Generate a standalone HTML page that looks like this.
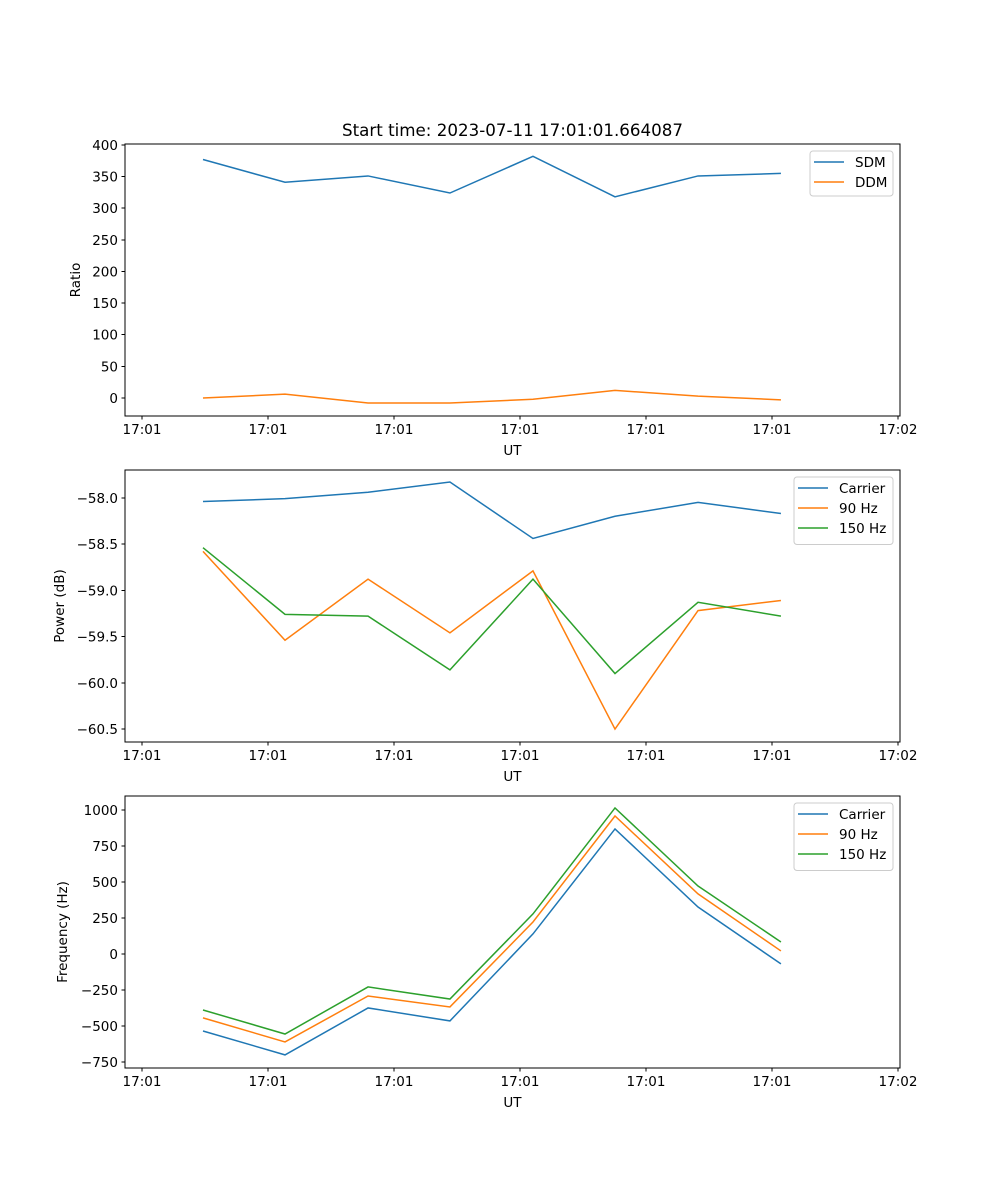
<!DOCTYPE html>
<html><head><meta charset="utf-8"><style>
body{margin:0;background:#fff}
svg{display:block;font-family:"DejaVu Sans","Liberation Sans",sans-serif}
</style></head><body>
<svg id="fig" width="1000" height="1200" viewBox="0 0 1000 1200" xmlns="http://www.w3.org/2000/svg">
<rect width="1000" height="1200" fill="#fff"/>
<text x="512.5" y="136" font-size="16.7" text-anchor="middle">Start time: 2023-07-11 17:01:01.664087</text>
</svg>
<script>
// x positions in units of tick spacing (ticks labelled 17:01 .. 17:02)
const sampleTimes = [0.484, 1.135, 1.794, 2.444, 3.103, 3.754, 4.413, 5.071];
const xTickLabels = ["17:01","17:01","17:01","17:01","17:01","17:01","17:02"];
const sdmValues = [377, 341, 351, 324, 382, 318, 351, 355];
const ddmValues = [0, 6, -8, -8, -2, 12, 3, -3];
const powerCarrier = [-58.04, -58.01, -57.94, -57.83, -58.44, -58.20, -58.05, -58.17];
const power90 = [-58.58, -59.54, -58.88, -59.46, -58.79, -60.50, -59.22, -59.11];
const power150 = [-58.54, -59.26, -59.28, -59.86, -58.88, -59.90, -59.13, -59.28];
const freqCarrier = [-535, -701, -375, -465, 139, 868, 326, -69];
const freq90 = [-444, -611, -292, -368, 222, 958, 417, 21];
const freq150 = [-389, -556, -229, -313, 278, 1014, 472, 83];
const ratioTicks = [0,50,100,150,200,250,300,350,400];
const powerTicks = [-60.5,-60.0,-59.5,-59.0,-58.5,-58.0];
const freqTicks = [-750,-500,-250,0,250,500,750,1000];

const NS="http://www.w3.org/2000/svg";
const svg=document.getElementById('fig');
const C={blue:'#1f77b4',orange:'#ff7f0e',green:'#2ca02c'};
function mk(tag,attrs,parent){const e=document.createElementNS(NS,tag);for(const k in attrs)e.setAttribute(k,attrs[k]);(parent||svg).appendChild(e);return e;}

function panel(cfg){
  const L=125,R=900,T=cfg.top,B=cfg.top+272;
  const xmin=-0.135,xmax=6.016;
  const sx=v=>L+(v-xmin)/(xmax-xmin)*(R-L);
  const sy=v=>B-(v-cfg.ymin)/(cfg.ymax-cfg.ymin)*(B-T);
  const g=mk('g',{});
  
  
  cfg.series.forEach(s=>{
    const p=mk('polyline',{points:s.vals.map((v,i)=>sx(sampleTimes[i])+','+sy(v)).join(' '),fill:'none',stroke:s.color,'stroke-width':1.5},g);
    
    
  });
  const fr=mk('rect',{x:L,y:T,width:R-L,height:B-T,fill:'none',stroke:'#000','stroke-width':1,'shape-rendering':'crispEdges'},g);
  
  
  xTickLabels.forEach((lab,i)=>{
    const x=sx(i);
    mk('line',{x1:x,x2:x,y1:B,y2:B+3.5,stroke:'#000','stroke-width':1,'shape-rendering':'crispEdges'},g);
    const t=mk('text',{x:x,y:B+18,'font-size':13.5,'text-anchor':'middle'},g);
    t.textContent=lab;
    
    
  });
  const xl=mk('text',{x:(L+R)/2,y:B+39,'font-size':13.5,'text-anchor':'middle'},g);
  xl.textContent='UT';
  
  
  cfg.ticks.forEach(v=>{
    const y=sy(v);
    mk('line',{x1:L-3.5,x2:L,y1:y,y2:y,stroke:'#000','stroke-width':1,'shape-rendering':'crispEdges'},g);
    const t=mk('text',{x:L-7,y:y+5,'font-size':13.5,'text-anchor':'end'},g);
    t.textContent=cfg.fmt(v);
    
    
  });
  const yl=mk('text',{x:0,y:0,'font-size':13.5,'text-anchor':'middle',transform:`translate(${cfg.ylx},${(T+B)/2}) rotate(-90)`},g);
  yl.textContent=cfg.ylabel;
  
  
  const n=cfg.series.length;
  const lx=cfg.legX, ly=T+7, lw=893-cfg.legX, lh=n*22.5;
  const lg=mk('g',{},g);
  
  
  mk('rect',{x:lx,y:ly,width:lw,height:lh,rx:3,fill:'#fff','fill-opacity':0.8,stroke:'#ccc','stroke-width':1},lg);
  cfg.series.forEach((s,i)=>{
    const yy=ly+11+i*20;
    const e=mk('g',{},lg);
    
    
    mk('line',{x1:lx+4,x2:lx+34,y1:yy,y2:yy,stroke:s.color,'stroke-width':1.5},e);
    const t=mk('text',{x:lx+45,y:yy+5,'font-size':13.5},e);
    t.textContent=s.label;
  });
}

panel({name:'ratio-panel',top:144,ymin:-28.5,ymax:401.5,ticks:ratioTicks,fmt:v=>String(v),ylabel:'Ratio',ylx:80,legX:810,
  series:[{id:'sdm-line',label:'SDM',vals:sdmValues,color:C.blue},{id:'ddm-line',label:'DDM',vals:ddmValues,color:C.orange}]});
panel({name:'power-panel',top:470,ymin:-60.64,ymax:-57.70,ticks:powerTicks,fmt:v=>'\u2212'+Math.abs(v).toFixed(1),ylabel:'Power (dB)',ylx:64,legX:794,
  series:[{id:'power-carrier-line',label:'Carrier',vals:powerCarrier,color:C.blue},{id:'power-90hz-line',label:'90 Hz',vals:power90,color:C.orange},{id:'power-150hz-line',label:'150 Hz',vals:power150,color:C.green}]});
panel({name:'frequency-panel',top:796,ymin:-792,ymax:1097,ticks:freqTicks,fmt:v=>(v<0?'\u2212':'')+Math.abs(v),ylabel:'Frequency (Hz)',ylx:67,legX:794,
  series:[{id:'freq-carrier-line',label:'Carrier',vals:freqCarrier,color:C.blue},{id:'freq-90hz-line',label:'90 Hz',vals:freq90,color:C.orange},{id:'freq-150hz-line',label:'150 Hz',vals:freq150,color:C.green}]});
</script>
</body></html>
